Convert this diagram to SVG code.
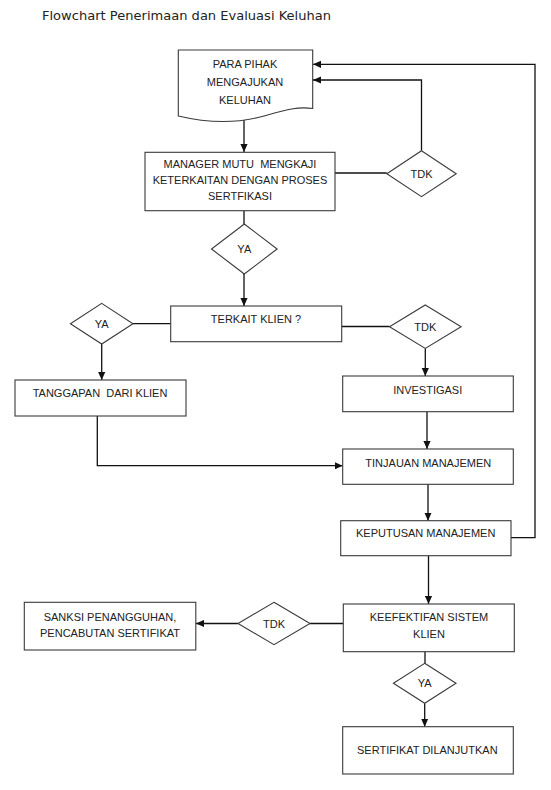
<svg xmlns="http://www.w3.org/2000/svg" width="551" height="790" viewBox="0 0 551 790">
<style>
.bg{fill:#fff}
.node{fill:#fff;stroke:#3a3a3a;stroke-width:1.1}
.t{font-family:"Liberation Sans",Arial,sans-serif;font-size:11px;fill:#222;text-anchor:middle;white-space:pre}
.title{font-family:"DejaVu Sans",Verdana,sans-serif;font-size:12.8px;fill:#222}
.c{fill:none;stroke:#111;stroke-width:1.3}
</style>
<defs>
<marker id="ah" markerUnits="userSpaceOnUse" markerWidth="8" markerHeight="8" viewBox="0 0 8 8" refX="8" refY="4" orient="auto">
<path d="M0,0.4 L8,4 L0,7.6 Z" fill="#111"/>
</marker>
</defs>
<rect class="bg" x="0" y="0" width="551" height="790"/>
<text class="title" x="42" y="19.5" textLength="289" lengthAdjust="spacingAndGlyphs">Flowchart Penerimaan dan Evaluasi Keluhan</text>

<g id="connectors">
<path class="c" d="M244,120 V152" marker-end="url(#ah)"/>
<path class="c" d="M244,210.7 V224"/>
<path class="c" d="M244,274 V306" marker-end="url(#ah)"/>
<path class="c" d="M335,173 H386.7"/>
<path class="c" d="M421.5,150.7 V80 H313" marker-end="url(#ah)"/>
<path class="c" d="M170.7,323.7 H133"/>
<path class="c" d="M101.7,344 V380" marker-end="url(#ah)"/>
<path class="c" d="M341.7,326.5 H389.5"/>
<path class="c" d="M425.3,348.4 V376" marker-end="url(#ah)"/>
<path class="c" d="M427,411.7 V449" marker-end="url(#ah)"/>
<path class="c" d="M97.3,416 V465.7 H342.7" marker-end="url(#ah)"/>
<path class="c" d="M428,484.3 V520.7" marker-end="url(#ah)"/>
<path class="c" d="M511,537.7 H535 V64.3 H313" marker-end="url(#ah)"/>
<path class="c" d="M428.5,555.7 V604" marker-end="url(#ah)"/>
<path class="c" d="M343.3,623.5 H310"/>
<path class="c" d="M238,623.5 H196" marker-end="url(#ah)"/>
<path class="c" d="M425,651.7 V663.3"/>
<path class="c" d="M424.7,703.3 V726.7" marker-end="url(#ah)"/>
</g>

<g id="n-pihak">
<path class="node" d="M178.3,50 H312.7 V108.5 C296,106 282,111 262,116.5 C240,122.5 212,124 178.3,116 Z"/>
<text class="t" x="245" y="68">PARA PIHAK</text>
<text class="t" x="245" y="85.7">MENGAJUKAN</text>
<text class="t" x="245" y="104">KELUHAN</text>
</g>
<g id="n-manager">
<rect class="node" x="145" y="152.3" width="190" height="58.4"/>
<text class="t" x="240" y="168.3">MANAGER MUTU  MENGKAJI</text>
<text class="t" x="240" y="184">KETERKAITAN DENGAN PROSES</text>
<text class="t" x="240" y="199.7">SERTFIKASI</text>
</g>
<g id="d-tdk1">
<path class="node" d="M421.5,150.7 L456.2,173.7 L421.5,196.7 L386.8,173.7 Z"/>
<text class="t" x="421.5" y="177.7">TDK</text>
</g>
<g id="d-ya1">
<path class="node" d="M244.3,224 L277.1,249 L244.3,274 L211.5,249 Z"/>
<text class="t" x="244.3" y="253">YA</text>
</g>
<g id="n-terkait">
<rect class="node" x="170.7" y="306" width="171" height="35.7"/>
<text class="t" x="256" y="323.3">TERKAIT KLIEN ?</text>
</g>
<g id="d-ya2">
<path class="node" d="M101.7,303.4 L133,323.7 L101.7,344 L70.4,323.7 Z"/>
<text class="t" x="101.7" y="327.7">YA</text>
</g>
<g id="d-tdk2">
<path class="node" d="M425.3,305 L461.1,326.7 L425.3,348.4 L389.5,326.7 Z"/>
<text class="t" x="425.3" y="330.7">TDK</text>
</g>
<g id="n-tanggapan">
<rect class="node" x="15" y="380" width="171" height="36"/>
<text class="t" x="100" y="397.3">TANGGAPAN  DARI KLIEN</text>
</g>
<g id="n-investigasi">
<rect class="node" x="342.7" y="376" width="170.6" height="35.7"/>
<text class="t" x="427.7" y="394">INVESTIGASI</text>
</g>
<g id="n-tinjauan">
<rect class="node" x="342.7" y="449" width="170.6" height="35.3"/>
<text class="t" x="428.3" y="466.7">TINJAUAN MANAJEMEN</text>
</g>
<g id="n-keputusan">
<rect class="node" x="340.7" y="520.7" width="170.3" height="35"/>
<text class="t" x="425.7" y="537.3">KEPUTUSAN MANAJEMEN</text>
</g>
<g id="n-keefektifan">
<rect class="node" x="343.3" y="604" width="171" height="47.7"/>
<text class="t" x="429" y="621.3">KEEFEKTIFAN SISTEM</text>
<text class="t" x="429" y="638">KLIEN</text>
</g>
<g id="d-tdk3">
<path class="node" d="M274,602.3 L310,623.5 L274,644.7 L238,623.5 Z"/>
<text class="t" x="274" y="627.5">TDK</text>
</g>
<g id="n-sanksi">
<rect class="node" x="24.3" y="602.3" width="171.5" height="47.7"/>
<text class="t" x="110" y="620.7">SANKSI PENANGGUHAN,</text>
<text class="t" x="110" y="636.7">PENCABUTAN SERTIFIKAT</text>
</g>
<g id="d-ya3">
<path class="node" d="M424.7,663.3 L456,683.3 L424.7,703.3 L393.4,683.3 Z"/>
<text class="t" x="424.7" y="687.3">YA</text>
</g>
<g id="n-sertifikat">
<rect class="node" x="342.7" y="726.7" width="170.6" height="47.3"/>
<text class="t" x="427.3" y="754">SERTIFIKAT DILANJUTKAN</text>
</g>
</svg>
